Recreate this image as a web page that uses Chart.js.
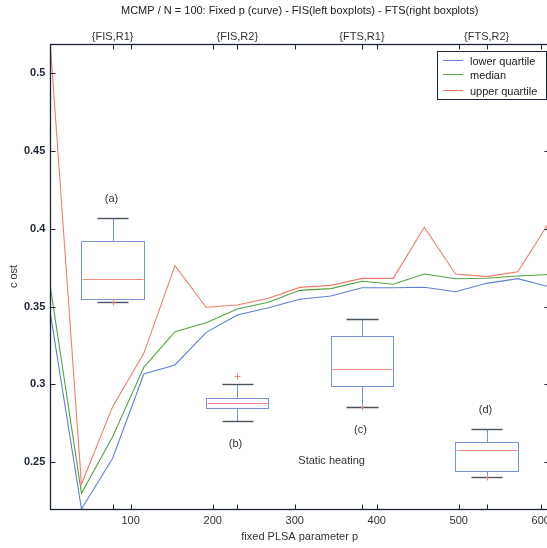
<!DOCTYPE html>
<html><head><meta charset="utf-8">
<script src="https://cdn.jsdelivr.net/npm/chart.js@4.4.1/dist/chart.umd.min.js"></script>
<style>html,body{margin:0;padding:0;background:#fff;overflow:hidden;width:547px;height:548px}canvas{display:block}</style>
</head><body><canvas id="c" width="560" height="548" style="width:560px;height:548px"></canvas>
<script>
// ---- data ----
const pValues = [2,40,78,116,154,192,230,268,306,344,382,420,458,496,534,572,610];
const lowerQuartile = [0.3458,0.2198,0.2524,0.3066,0.3124,0.3334,0.3445,0.3492,0.3547,0.3568,0.3621,0.3621,0.3624,0.3595,0.3649,0.3679,0.3627];
const medianValues  = [0.3630,0.2299,0.2663,0.3109,0.3338,0.3396,0.3484,0.3527,0.3604,0.3615,0.3662,0.3643,0.3709,0.3679,0.3682,0.3696,0.3706];
const upperQuartile = [0.5188,0.2357,0.2856,0.3199,0.3763,0.3495,0.3510,0.3553,0.3623,0.3636,0.3681,0.3681,0.4010,0.3709,0.3692,0.3724,0.4040];
const seriesNames = ['lower quartile','median','upper quartile'];
const xTickValues = [100,200,300,400,500,600];
const yTickValues = [0.25,0.3,0.35,0.4,0.45,0.5];
const yTickLabels = ['0.25','0.3','0.35','0.4','0.45','0.5'];
const boxPositions = [78,230,382,534];
const boxNames = ['{FIS,R1}','{FIS,R2}','{FTS,R1}','{FTS,R2}'];
const boxTags = ['(a)','(b)','(c)','(d)'];
const boxLowerWhisker = [0.3531,0.2762,0.2856,0.2405];
const boxQ1           = [0.3548,0.2845,0.2987,0.2440];
const boxMedian       = [0.3675,0.2881,0.3098,0.2575];
const boxQ3           = [0.3923,0.2914,0.3310,0.2631];
const boxUpperWhisker = [0.4071,0.3000,0.3420,0.2712];
const boxOutliers     = [[0.3531],[0.3053],[0.2856],[0.2405]];
const noteText = 'Static heating';
const noteAt = [345, 0.2506];
const titleText = 'MCMP / N = 100: Fixed p (curve) - FIS(left boxplots) - FTS(right boxplots)';

// ---- styles ----
const AX = '#1b2536';
const BLUE = '#5f80d2', GREEN = '#56a23e', RED = '#f07c68';
const BOXBLUE = '#7892d6', MEDRED = '#f28a7c', CAP = '#4a5562';
const FONT = "'Liberation Sans', Arial, sans-serif";

const mk = (arr) => pValues.map((p, i) => ({x: p, y: arr[i]}));

const px = v => Math.round(v) + 0.5;

const boxPlugin = {
  id: 'boxes',
  afterDatasetsDraw(chart) {
    const {ctx, scales: {x, y}} = chart;
    const half = (x.max - x.min) / 16;
    const tagSide = ['above', 'below', 'below', 'above'];
    ctx.save();
    ctx.lineWidth = 1;
    const line = (x1, y1, x2, y2, c, w) => { ctx.strokeStyle = c; ctx.lineWidth = w || 1; ctx.beginPath(); ctx.moveTo(x1, y1); ctx.lineTo(x2, y2); ctx.stroke(); };
    boxPositions.forEach((p, i) => {
      const cx = px(x.getPixelForValue(p));
      const xl = px(x.getPixelForValue(p - half)), xr = px(x.getPixelForValue(p + half));
      const cl = px(x.getPixelForValue(p - half / 2)), cr = px(x.getPixelForValue(p + half / 2));
      const yq1 = px(y.getPixelForValue(boxQ1[i])), yq3 = px(y.getPixelForValue(boxQ3[i]));
      const ym = px(y.getPixelForValue(boxMedian[i]));
      const ylw = px(y.getPixelForValue(boxLowerWhisker[i])), yuw = px(y.getPixelForValue(boxUpperWhisker[i]));
      line(cx, yq3, cx, yuw, BOXBLUE);
      line(cx, yq1, cx, ylw, BOXBLUE);
      ctx.strokeStyle = BOXBLUE;
      ctx.lineWidth = 1;
      ctx.strokeRect(xl, yq3, xr - xl, yq1 - yq3);
      line(xl + 1, ym, xr - 1, ym, MEDRED);
      boxOutliers[i].forEach(o => {
        const oy = px(y.getPixelForValue(o));
        line(cx - 3, oy, cx + 3, oy, MEDRED);
        line(cx, oy - 3, cx, oy + 3, MEDRED);
      });
      line(cl, yuw, cr, yuw, CAP, 1.4);
      line(cl, ylw, cr, ylw, CAP, 1.4);
      const oy0 = boxOutliers[i].length ? px(y.getPixelForValue(boxOutliers[i][0])) : null;
      if (oy0 !== null && Math.abs(oy0 - ylw) < 2) { ctx.fillStyle = MEDRED; ctx.fillRect(cx - 1, oy0 - 1, 2, 2); }
      ctx.fillStyle = '#333';
      ctx.font = '11px ' + FONT;
      ctx.textAlign = 'center';
      ctx.textBaseline = 'middle';
      const ty = tagSide[i] === 'above' ? yuw - 20 : ylw + 22;
      ctx.fillText(boxTags[i], cx - 2, ty);
    });
    ctx.fillStyle = '#333';
    ctx.fillText(noteText, x.getPixelForValue(noteAt[0]), y.getPixelForValue(noteAt[1]));
    ctx.restore();
  },
  afterDraw(chart) {
    const {ctx, chartArea: a, scales: {x, y}} = chart;
    ctx.save();
    ctx.strokeStyle = AX;
    ctx.lineWidth = 1.3;
    const L = px(a.left), R = px(a.right), T = px(a.top), B = px(a.bottom);
    ctx.strokeRect(L, T, R - L, B - T);
    ctx.lineWidth = 1;
    ctx.beginPath();
    [...xTickValues, ...boxPositions].forEach(v => {
      const xx = px(x.getPixelForValue(v));
      ctx.moveTo(xx, B); ctx.lineTo(xx, B - 5);
      ctx.moveTo(xx, T); ctx.lineTo(xx, T + 5);
    });
    yTickValues.forEach(v => {
      const yy = px(y.getPixelForValue(v));
      ctx.moveTo(L, yy); ctx.lineTo(L + 5, yy);
      ctx.moveTo(R, yy); ctx.lineTo(R - 5, yy);
    });
    ctx.stroke();
    // legend
    const lt = Math.round(a.top) + 7, lw = 109, lh = 48;
    const ll = Math.round(a.right) - 3 - lw;
    ctx.fillStyle = '#fff';
    ctx.fillRect(ll, lt, lw, lh);
    ctx.strokeStyle = AX;
    ctx.strokeRect(ll + 0.5, lt + 0.5, lw, lh);
    const rows = [9, 23, 39];
    ctx.font = '11px ' + FONT;
    ctx.textAlign = 'left';
    ctx.textBaseline = 'middle';
    chart.data.datasets.forEach((ds, i) => {
      const yy = lt + rows[i] + 0.5;
      ctx.strokeStyle = ds.borderColor;
      ctx.lineWidth = 1;
      ctx.beginPath(); ctx.moveTo(ll + 6, yy); ctx.lineTo(ll + 26, yy); ctx.stroke();
      ctx.fillStyle = '#222';
      ctx.fillText(ds.label, ll + 33, yy + 1);
    });
    ctx.restore();
  }
};

new Chart(document.getElementById('c'), {
  type: 'line',
  data: {
    datasets: [
      {label: seriesNames[0], data: mk(lowerQuartile), borderColor: BLUE, borderWidth: 1.1, pointRadius: 0, tension: 0, fill: false},
      {label: seriesNames[1], data: mk(medianValues), borderColor: GREEN, borderWidth: 1.1, pointRadius: 0, tension: 0, fill: false},
      {label: seriesNames[2], data: mk(upperQuartile), borderColor: RED, borderWidth: 1.1, pointRadius: 0, tension: 0, fill: false}
    ]
  },
  options: {
    responsive: false,
    devicePixelRatio: 1,
    animation: false,
    layout: {padding: {left: 0, right: 11, top: 0, bottom: 0}},
    plugins: {
      legend: {display: false},
      tooltip: {enabled: false},
      title: {display: true, fullSize: false, text: titleText, color: '#222', font: {family: FONT, size: 11, weight: 'normal'}, padding: {top: 4, bottom: 4}}
    },
    scales: {
      x: {
        type: 'linear', position: 'bottom',
        min: pValues[0], max: pValues[pValues.length - 1],
        afterBuildTicks: s => { s.ticks = xTickValues.map(v => ({value: v})); },
        afterFit: s => { s.height = 39; },
        grid: {display: false, drawTicks: false},
        border: {display: false},
        ticks: {autoSkip: false, maxRotation: 0, padding: 5, color: '#333', font: {family: FONT, size: 11}, callback: v => String(v)},
        title: {display: true, text: 'fixed PLSA parameter p', color: '#333', font: {family: FONT, size: 11}, padding: {top: 0, bottom: 4}}
      },
      xTop: {
        type: 'linear', position: 'top',
        min: pValues[0], max: pValues[pValues.length - 1],
        afterBuildTicks: s => { s.ticks = boxPositions.map(v => ({value: v})); },
        afterFit: s => { s.height = 22.8; },
        grid: {display: false, drawTicks: false},
        border: {display: false},
        ticks: {autoSkip: false, maxRotation: 0, padding: 0, color: '#333', font: {family: FONT, size: 11}, callback: (v, i) => boxNames[i]}
      },
      y: {
        type: 'linear', position: 'left',
        min: Math.min(...lowerQuartile), max: Math.max(...upperQuartile),
        afterBuildTicks: s => { s.ticks = yTickValues.map(v => ({value: v})); },
        afterFit: s => { s.width = 50.3; },
        grid: {display: false, drawTicks: false},
        border: {display: false},
        ticks: {autoSkip: false, padding: 5, color: AX, font: {family: FONT, size: 11, weight: 'bold'}, callback: (v, i) => yTickLabels[i]},
        title: {display: true, text: 'c ost', color: '#333', font: {family: FONT, size: 11}, padding: {top: 7.4, bottom: 0}}
      }
    }
  },
  plugins: [boxPlugin]
});
</script>
</body></html>
